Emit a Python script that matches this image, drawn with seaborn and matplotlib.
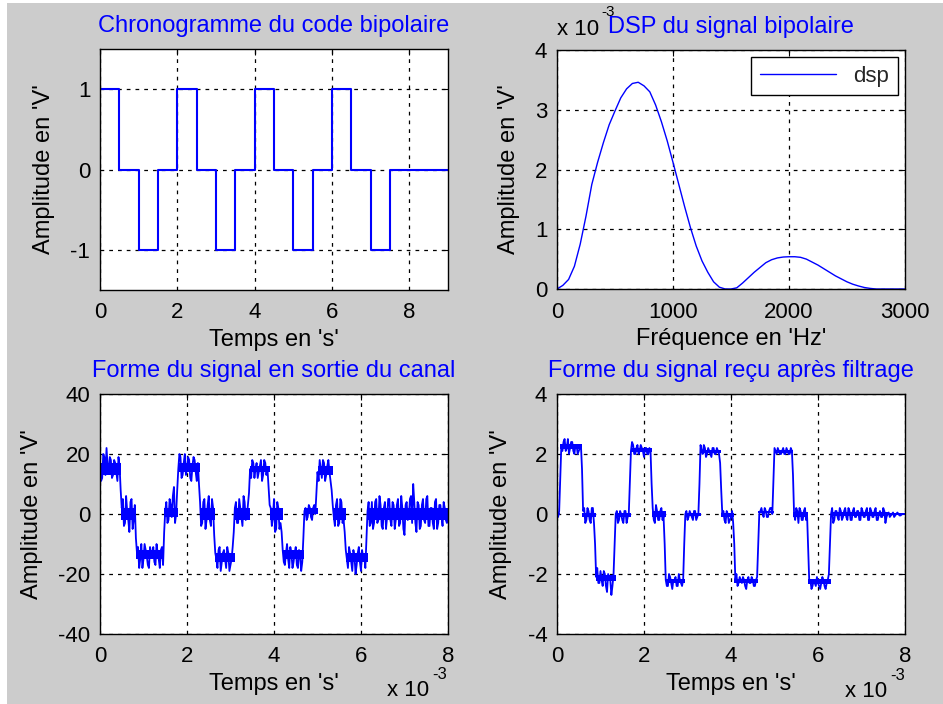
import numpy as np
import pandas as pd
import matplotlib
matplotlib.use("Agg")
import matplotlib.pyplot as plt
import seaborn as sns
from matplotlib.patches import Rectangle

# ---------------- data ----------------
# Bipolar code chronogram (segment start times in s, level in V)
bip_t = [0.0, 0.5, 1.0, 1.5, 2.0, 2.5, 3.0, 3.5, 4.0, 4.5, 5.0, 5.5, 6.0, 6.5, 7.0, 7.5, 9.0]
bip_level = [1, 0, -1, 0, 1, 0, -1, 0, 1, 0, -1, 0, 1, 0, -1, 0, 0]

# Power spectral density (x 10^-3)
dsp_freq = [0, 50, 100, 150, 200, 250, 300, 350, 400, 450, 500, 550, 600, 650, 700, 750,
            800, 850, 900, 950, 1000, 1050, 1100, 1150, 1200, 1250, 1300, 1350, 1400, 1450,
            1500, 1550, 1600, 1650, 1700, 1750, 1800, 1850, 1900, 1950, 2000, 2050, 2100,
            2150, 2200, 2250, 2300, 2350, 2400, 2450, 2500, 2550, 2600, 2650, 2700, 2750,
            2800, 2900, 3000]
dsp_e3 = [0.0, 0.06, 0.16, 0.38, 0.75, 1.22, 1.75, 2.12, 2.45, 2.75, 2.98, 3.20, 3.35, 3.44,
          3.46, 3.40, 3.30, 3.08, 2.80, 2.48, 2.12, 1.75, 1.38, 1.03, 0.72, 0.47, 0.28, 0.12,
          0.03, 0.0, 0.0, 0.02, 0.10, 0.19, 0.28, 0.36, 0.44, 0.49, 0.52, 0.535, 0.54, 0.54,
          0.53, 0.50, 0.45, 0.40, 0.34, 0.28, 0.22, 0.17, 0.12, 0.08, 0.05, 0.025, 0.01, 0.0,
          0.0, 0.0, 0.0]

# Sampled signals: "canal"/"filtre" every 0.05 ms from 0 to 8 ms,
# "*_mid" at the half-way instants (0.025, 0.075, ... 7.975 ms)
sample_ms = 0.05
canal = [17, 12, 19, 22, 14, 18, 13, 17, 11, 16,
         2, -4, 6, -2, 4, -5, 3,
         -13, -18, -10, -15, -12, -17, -11, -14, -16, -10, -15, -12, -17,
         1, -3, 5, -1, 9, 0,
         15, 19, 13, 20, 15, 18, 11, 19, 14, 17,
         4, -3, 5, -2, 6, -4, 2,
         -13, -18, -11, -16, -12, -18, -13, -17, -11,
         2, -3, 5, -1, 6, -2, 3,
         15, 18, 12, 17, 14, 18, 13, 17, 15,
         3, -4, 5, -5, 2, -3,
         -12, -17, -10, -18, -13, -16, -11, -18, -14, -16,
         1, -2, 3, -1, 2, 0,
         14, 18, 12, 17, 13, 18, 11,
         3, -4, 5, -3, 4, -2,
         -12, -18, -13, -19, -14, -17, -11, -19, -15, -18,
         1, -4, 4, -3, 5, -2, 3, -5, 4, -1, 5, -4, 3, -2, 5, -3, 2, -7, 4, -1,
         6, 10, -3, 4, -5, 3, -2, 5, -4, 2, -3, 4, -5, 3, -1, 4, -2, 0]
canal_mid = [11, 20, 13, 16, 19, 12, 18, 14, 19,
             8,
             5, -3, 1, -6, 5, -2,
             -8,
             -11, -15, -18, -10, -14, -18, -13, -11, -17, -13, -18, -11,
             -6,
             4, -2, 3, 6, -3,
             8,
             20, 12, 17, 13, 19, 12, 16, 18, 11,
             10,
             -4, 4, -5, 3, -2, 5,
             -7,
             -15, -12, -19, -13, -15, -11, -19, -15,
             -6,
             4, -3, 2, -4, 4, -1,
             7,
             12, 17, 15, 12, 16, 11, 18, 13,
             9,
             2, -1, -6, 4, -5,
             -6,
             -16, -13, -15, -11, -18, -13, -17, -12, -19,
             -8,
             2, -1, 2, -2, 3,
             7,
             11, 15, 18, 11, 16, 14,
             8,
             -1, 3, -4, 5, -3,
             -6,
             -15, -11, -16, -12, -20, -13, -16, -12, -14,
             -8,
             4, -3, -5, 4, -3, 6, -4, 2, -5, 5, -2, 4, -5, 3, -4, 6, -5, 3, -2, 5,
             -3, 4, -6, 3, -4, 5, -3, 6, -4, 2, -5, 5, -3, 3, -4, 2, -3]

filtre = [0.0, 0.1, 2.3, 2.4, 2.1, 2.5, 2.2, 2.4, 2.0, 2.3, 2.1, 2.3,
          0.1, -0.3, 0.2, -0.2, 0.2, -0.3,
          -2.1, -2.3, -1.9, -2.4, -2.0, -2.6, -2.1, -2.7, -2.0,
          0.0, -0.3, 0.1, -0.2, 0.1, -0.3, 0.0,
          2.1, 2.3, 2.0, 2.3, 2.1, 2.2, 1.9, 2.2, 2.0, 2.1,
          0.2, -0.3, 0.1, -0.2, 0.2, -0.1,
          -2.2, -2.4, -2.1, -2.5, -2.2, -2.4, -2.0, -2.3, -2.2,
          0.0, -0.2, 0.1, -0.1, 0.1, -0.2, 0.0,
          2.3, 2.0, 2.2, 2.0, 2.1, 1.9, 2.2, 2.0, 2.1, 1.7,
          0.0, -0.2, 0.1, -0.3, -0.1, -0.3,
          -2.2, -2.4, -2.1, -2.3, -2.2, -2.5, -2.1, -2.3, -2.2, -2.4, -2.1,
          0.0, 0.2, -0.1, 0.1, -0.1, 0.2, 0.0,
          2.2, 2.0, 2.1, 2.0, 2.2, 2.0, 2.1, 2.0, 2.1,
          0.0, 0.2, -0.3, 0.1, -0.2, 0.2, -0.1,
          -2.3, -2.5, -2.2, -2.4, -2.3, -2.5, -2.1, -2.4, -2.3, -2.0,
          0.0, -0.3, 0.1, -0.1, 0.2, -0.2, 0.1, -0.1, 0.2, -0.2,
          0.1, -0.1, 0.1, -0.2, 0.2, -0.1, 0.1, -0.2, 0.2, -0.1,
          0.1, -0.2, 0.0, -0.1, 0.2, -0.3, 0.0, -0.1, 0.0, -0.1,
          0.0, 0.0, -0.05, 0.0, 0.0]
filtre_mid = [-0.1,
              1.2,
              2.1, 2.5, 2.2, 2.0, 2.4, 2.1, 2.3, 2.0, 2.2,
              1.5,
              0.2, -0.2, 0.1, -0.3, 0.2,
              -1.0,
              -1.8, -2.3, -2.2, -1.9, -2.4, -2.0, -2.2, -2.4,
              -1.0,
              0.1, -0.2, 0.0, -0.3, 0.1, -0.1,
              1.0,
              2.4, 2.0, 2.2, 2.0, 2.3, 2.1, 2.2, 2.0, 2.2,
              1.0,
              -0.2, 0.3, -0.2, 0.1, -0.2,
              -1.0,
              -2.4, -2.0, -2.3, -2.2, -2.1, -2.4, -2.2, -2.4,
              -1.0,
              0.1, -0.1, 0.0, -0.2, 0.1, -0.1,
              1.0,
              2.1, 2.3, 1.9, 2.2, 2.0, 2.2, 2.0, 2.2, 2.0,
              0.8,
              0.1, -0.3, 0.0, -0.2, 0.1,
              -1.0,
              -2.0, -2.3, -2.2, -2.1, -2.4, -2.2, -2.3, -2.1, -2.4, -2.2,
              -1.0,
              0.1, 0.0, 0.2, -0.1, 0.1, 0.2,
              1.1,
              2.1, 2.2, 2.0, 2.1, 2.0, 2.2, 2.0, 2.2,
              1.3,
              -0.2, 0.1, 0.2, -0.2, 0.1, -0.2,
              -1.2,
              -2.2, -2.4, -2.3, -2.1, -2.4, -2.3, -2.2, -2.5, -2.2,
              -1.0,
              0.2, -0.2, 0.1, -0.2, 0.1, -0.1, 0.2, -0.2, 0.1, -0.2,
              0.2, -0.1, 0.1, -0.2, 0.1, -0.1, 0.2, -0.2, 0.1, -0.1,
              0.2, -0.2, 0.1, -0.1, 0.1, -0.1, 0.05, -0.05, 0.05, -0.05,
              0.05, -0.05, 0.0, 0.0]

# Dense core of the noisy traces: segment start (ms), low, high
canal_band_t = [0.0, 0.48, 0.83, 1.48, 1.80, 2.30, 2.65, 3.10, 3.45, 3.90, 4.20, 4.70,
                5.00, 5.35, 5.65, 6.15, 8.0]
canal_band_lo = [13, -2, -15, -1, 14, -2, -16, -2, 14, -2, -15, 0, 13, -2, -16, -2, -2]
canal_band_hi = [17, 2, -12, 2, 17, 2, -13, 2, 16, 2, -12, 2, 16, 2, -13, 2, 2]

filtre_band_t = [0.0, 0.07, 0.58, 0.90, 1.35, 1.70, 2.18, 2.50, 2.95, 3.30, 3.78, 4.08,
                 4.63, 4.98, 5.43, 5.78, 6.30, 7.60, 8.0]
filtre_band_lo = [-0.03, 2.18, -0.1, -2.22, -0.1, 2.07, -0.1, -2.3, -0.05, 2.05, -0.1,
                  -2.3, 0.02, 2.05, -0.1, -2.32, -0.07, -0.02, -0.02]
filtre_band_hi = [0.03, 2.32, 0.05, -2.03, 0.03, 2.2, 0.1, -2.17, 0.05, 2.15, 0.03,
                  -2.17, 0.1, 2.15, 0.08, -2.18, 0.08, 0.02, 0.02]


def merge(main, mid):
    t_main = np.arange(len(main)) * sample_ms
    t_mid = np.arange(len(mid)) * sample_ms + sample_ms / 2
    t = np.concatenate([t_main, t_mid])
    v = np.concatenate([np.asarray(main, float), np.asarray(mid, float)])
    order = np.argsort(t, kind="stable")
    return pd.DataFrame({"t": t[order], "v": v[order]})


df_canal = merge(canal, canal_mid)
df_filtre = merge(filtre, filtre_mid)

# ---------------- style ----------------
sns.set_theme(style="white")
plt.rcParams["font.family"] = ["Liberation Sans", "DejaVu Sans"]
plt.rcParams["axes.unicode_minus"] = False

BLUE = "#0000ff"
GREY = "#cccccc"
FS = 16
FS_T = 17

W, H = 943, 704
fig = plt.figure(figsize=(W / 100, H / 100), dpi=100)
fig.patch.set_facecolor("white")
fig.add_artist(Rectangle((7 / W, 0), 1, 1 - 3 / H, transform=fig.transFigure,
                         facecolor=GREY, edgecolor="none", zorder=-10))


def px_axes(left, top, right, bottom):
    return fig.add_axes([left / W, 1 - bottom / H, (right - left) / W, (bottom - top) / H])


def style(ax, title, xlabel):
    ax.set_facecolor("white")
    for s in ax.spines.values():
        s.set_color("black")
        s.set_linewidth(1.0)
        s.set_visible(True)
    ax.grid(True, color="black", linestyle=(0, (3, 4)), linewidth=0.9)
    ax.tick_params(direction="in", length=4, width=0.8, top=True, right=True,
                   labelsize=FS, colors="black", pad=7)
    ax.tick_params(axis="x", pad=9)
    ax.set_title(title, color=BLUE, fontsize=FS_T, pad=12)
    ax.set_xlabel(xlabel, fontsize=FS_T, color="black", labelpad=4)
    ax.set_ylabel("Amplitude en 'V'", fontsize=FS_T, color="black", labelpad=11)


# Top-left: bipolar code
ax1 = px_axes(100, 49, 448, 290)
sns.lineplot(x=bip_t, y=bip_level, ax=ax1, color=BLUE, linewidth=1.5,
             drawstyle="steps-post", estimator=None, sort=False)
ax1.set_xlim(0, 9)
ax1.set_ylim(-1.5, 1.5)
ax1.set_xticks([0, 2, 4, 6, 8])
ax1.set_yticks([-1, 0, 1])
style(ax1, "Chronogramme du code bipolaire", "Temps en 's'")

# Top-right: DSP
ax2 = px_axes(557, 50, 905, 289)
sns.lineplot(x=dsp_freq, y=dsp_e3, ax=ax2, color=BLUE, linewidth=1.0,
             estimator=None, sort=False, label="dsp")
ax2.set_xlim(0, 3000)
ax2.set_ylim(0, 4)
ax2.set_xticks([0, 1000, 2000, 3000])
ax2.set_yticks([0, 1, 2, 3, 4])
style(ax2, "DSP du signal bipolaire", "Fréquence en 'Hz'")
leg = ax2.legend(loc="upper right", fontsize=FS, frameon=True, fancybox=False,
                 edgecolor="black", framealpha=1, handlelength=3.4,
                 borderaxespad=0.3, borderpad=0.4)
leg.get_frame().set_linewidth(1.0)
ax2.text(0.0, 1.085, "x 10", transform=ax2.transAxes, fontsize=FS, va="center",
         ha="left", color="black", zorder=1)
ax2.text(0.128, 1.16, "-3", transform=ax2.transAxes, fontsize=11, va="center",
         ha="left", color="black", zorder=1)

# Bottom-left: channel output
ax3 = px_axes(100, 394, 448, 634)
ax3.fill_between(canal_band_t, canal_band_lo, canal_band_hi, step="post",
                 color=BLUE, linewidth=0, zorder=2)
sns.lineplot(data=df_canal, x="t", y="v", ax=ax3, color=BLUE, linewidth=1.3,
             estimator=None, sort=False)
ax3.set_xlim(0, 8)
ax3.set_ylim(-40, 40)
ax3.set_xticks([0, 2, 4, 6, 8])
ax3.set_yticks([-40, -20, 0, 20, 40])
style(ax3, "Forme du signal en sortie du canal", "Temps en 's'")
ax3.text(0.825, -0.235, "x 10", transform=ax3.transAxes, fontsize=FS, va="center",
         ha="left", color="black")
ax3.text(0.955, -0.17, "-3", transform=ax3.transAxes, fontsize=12, va="center",
         ha="left", color="black")

# Bottom-right: filtered signal
ax4 = px_axes(557, 394, 905, 634)
ax4.fill_between(filtre_band_t, filtre_band_lo, filtre_band_hi, step="post",
                 color=BLUE, linewidth=0, zorder=2)
sns.lineplot(data=df_filtre, x="t", y="v", ax=ax4, color=BLUE, linewidth=1.3,
             estimator=None, sort=False)
ax4.set_xlim(0, 8)
ax4.set_ylim(-4, 4)
ax4.set_xticks([0, 2, 4, 6, 8])
ax4.set_yticks([-4, -2, 0, 2, 4])
style(ax4, "Forme du signal reçu après filtrage", "Temps en 's'")
ax4.text(0.828, -0.24, "x 10", transform=ax4.transAxes, fontsize=FS, va="center",
         ha="left", color="black")
ax4.text(0.958, -0.175, "-3", transform=ax4.transAxes, fontsize=12, va="center",
         ha="left", color="black")

fig.savefig("out.png", dpi=100, facecolor=fig.get_facecolor())
